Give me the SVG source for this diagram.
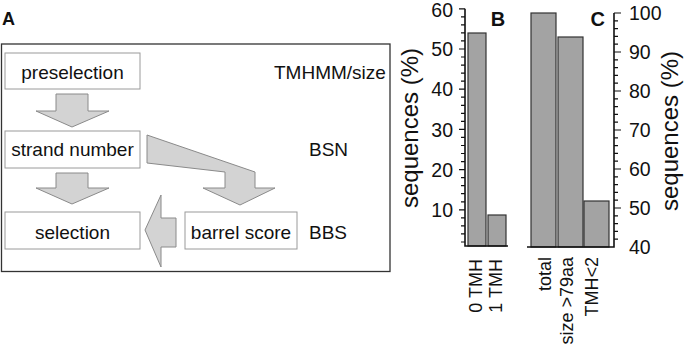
<svg xmlns="http://www.w3.org/2000/svg" width="685" height="349" viewBox="0 0 685 349">
<style>
text{font-family:"Liberation Sans",Arial,sans-serif;fill:#111}
.box{fill:#fff;stroke:#9a9a9a;stroke-width:1}
.arr{fill:#d3d3d3;stroke:#8a8a8a;stroke-width:1;stroke-linejoin:miter}
.lbl{font-size:19px}
.bar{fill:#a3a3a3;stroke:#333;stroke-width:1.2}
.ax{stroke:#111;stroke-width:1.6;fill:none}
.tk{stroke:#111;stroke-width:1.2;fill:none}
.num{font-size:19.5px}
.xl{font-size:18px}
.yl{font-size:24px}
.pl{font-size:20px;font-weight:bold}
</style>
<rect width="685" height="349" fill="#fff"/>
<g id="panelA">
<text class="pl" x="2" y="25" style="font-size:18px">A</text>
<rect x="1.5" y="44" width="388.5" height="227.5" fill="none" stroke="#333" stroke-width="1.3"/>
</g>
<g id="connectors">
<polygon class="arr" points="56,94 88,94 88,111 109,111 72,127 36,111 56,111"/>
<polygon class="arr" points="56,173 88,173 88,188 109,188 72,204 36,188 56,188"/>
<polygon class="arr" points="147,135 255,172 255,188 275,188 240,205 203,188 225,188 225,172 147,163"/>
<polygon class="arr" points="145,230 161,195 161,218 176,218 176,247 161,247 161,267"/>
</g>
<g id="preselection">
<rect class="box" x="5" y="53" width="135" height="36"/>
<text class="lbl" x="72.5" y="78.5" text-anchor="middle">preselection</text>
</g>
<g id="strand-number">
<rect class="box" x="5" y="131" width="135" height="37"/>
<text class="lbl" x="72.5" y="156" text-anchor="middle">strand number</text>
</g>
<g id="selection">
<rect class="box" x="5" y="212" width="135" height="37"/>
<text class="lbl" x="72.5" y="238.5" text-anchor="middle">selection</text>
</g>
<g id="barrel-score">
<rect class="box" x="185" y="212" width="112" height="37"/>
<text class="lbl" x="241" y="238.5" text-anchor="middle">barrel score</text>
</g>
<g id="labels">
<text class="lbl" x="274" y="78.5">TMHMM/size</text>
<text class="lbl" x="309" y="156">BSN</text>
<text class="lbl" x="309" y="239">BBS</text>
</g>
<g id="panelB">
<rect class="bar" x="468" y="33" width="18" height="213"/>
<rect class="bar" x="488" y="215" width="18" height="31"/>
<path class="ax" d="M465,8.8 V246 H508"/>
<path class="tk" d="M459,8.8H465 M459,49H465 M459,89.2H465 M459,129.4H465 M459,169.6H465 M459,209.8H465
M461,242H465 M461,233.9H465 M461,225.9H465 M461,217.8H465 M461,201.8H465 M461,193.7H465 M461,185.7H465 M461,177.6H465
M461,161.6H465 M461,153.5H465 M461,145.5H465 M461,137.4H465 M461,121.4H465 M461,113.3H465 M461,105.3H465 M461,97.2H465
M461,81.2H465 M461,73.1H465 M461,65.1H465 M461,57H465 M461,40.9H465 M461,32.9H465 M461,24.9H465 M461,16.8H465"/>
<g class="num" text-anchor="end">
<text x="453" y="17">60</text>
<text x="453" y="56">50</text>
<text x="453" y="96">40</text>
<text x="453" y="136.5">30</text>
<text x="453" y="176.5">20</text>
<text x="453" y="217">10</text>
</g>
<text class="pl" x="498" y="26" text-anchor="middle">B</text>
<text class="yl" transform="translate(418,128) rotate(-90)" text-anchor="middle">sequences (%)</text>
<text class="xl" transform="translate(482,259) rotate(-90)" text-anchor="end">0 TMH</text>
<text class="xl" transform="translate(502,259) rotate(-90)" text-anchor="end">1 TMH</text>
</g>
<g id="panelC">
<rect class="bar" x="531" y="13" width="25" height="234"/>
<rect class="bar" x="558" y="37" width="25" height="210"/>
<rect class="bar" x="584" y="201" width="25" height="46"/>
<path class="ax" d="M527,247 H614 V13"/>
<path class="tk" d="M614,13H621 M614,52H621 M614,91H621 M614,130H621 M614,169H621 M614,208H621
M614,239.2H618 M614,231.4H618 M614,223.6H618 M614,215.8H618 M614,200.2H618 M614,192.4H618 M614,184.6H618 M614,176.8H618
M614,161.2H618 M614,153.4H618 M614,145.6H618 M614,137.8H618 M614,122.2H618 M614,114.4H618 M614,106.6H618 M614,98.8H618
M614,83.2H618 M614,75.4H618 M614,67.6H618 M614,59.8H618 M614,44.2H618 M614,36.4H618 M614,28.6H618 M614,20.8H618"/>
<g class="num">
<text x="629" y="20">100</text>
<text x="629" y="59">90</text>
<text x="629" y="98">80</text>
<text x="629" y="137">70</text>
<text x="629" y="176">60</text>
<text x="629" y="215">50</text>
<text x="629" y="254">40</text>
</g>
<text class="pl" x="605" y="26" text-anchor="end">C</text>
<text class="yl" transform="translate(678,131) rotate(-90)" text-anchor="middle">sequences (%)</text>
<text class="xl" transform="translate(551,257) rotate(-90)" text-anchor="end">total</text>
<text class="xl" transform="translate(573,257) rotate(-90)" text-anchor="end">size &gt;79aa</text>
<text class="xl" transform="translate(598,257) rotate(-90)" text-anchor="end">TMH&lt;2</text>
</g>
</svg>
